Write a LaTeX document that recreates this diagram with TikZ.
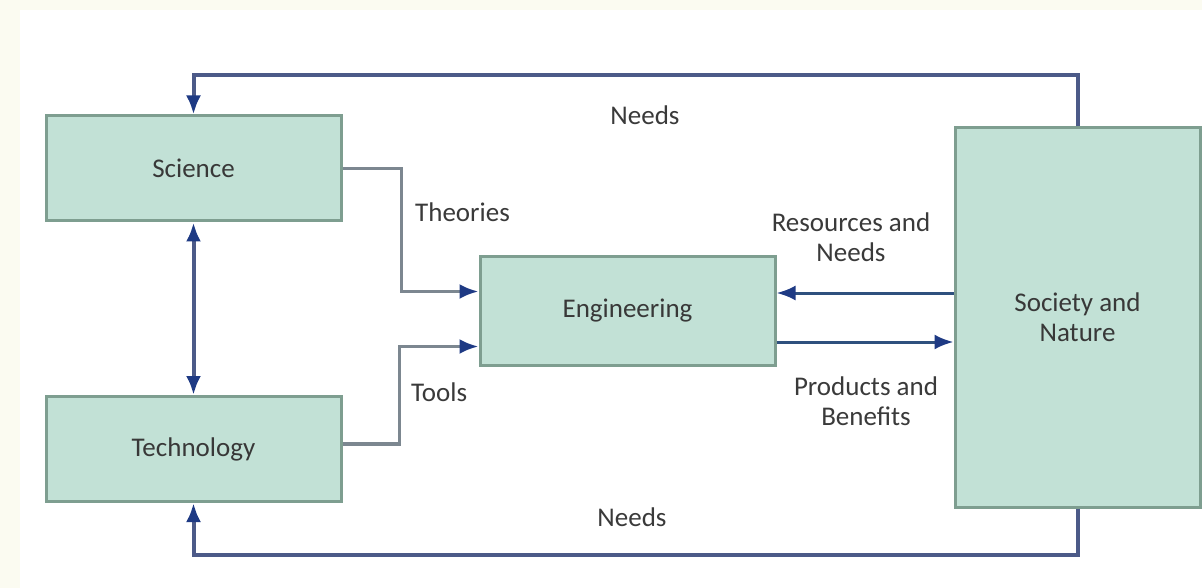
\documentclass[tikz,border=0pt]{standalone}
\usepackage{fontspec}
\setmainfont{Carlito}
\usetikzlibrary{arrows.meta}

\definecolor{boxfill}{HTML}{C2E1D6}
\definecolor{boxedge}{HTML}{7E9E90}
\definecolor{needblue}{HTML}{4C5A88}
\definecolor{feedgrey}{HTML}{7C8790}
\definecolor{flowblue}{HTML}{2F507E}
\definecolor{tipnavy}{HTML}{1E3A84}
\definecolor{labelgrey}{HTML}{3A3A3A}
\definecolor{cream}{HTML}{FBFBF1}

\tikzset{
    block/.style={draw=boxedge, fill=boxfill, line width=3pt, minimum width=295pt,
        minimum height=105pt, inner sep=0pt, align=center, text=black!78},
    lbl/.style={align=center, inner sep=0pt, text=labelgrey},
    navytip/.tip={Latex[length=19pt, width=15pt, color=tipnavy]},
    needarrow/.style={draw=needblue, line width=4pt, -navytip},
    feedarrow/.style={draw=feedgrey, line width=3.5pt, -navytip},
    flowarrow/.style={draw=flowblue, line width=3pt, -navytip}
}

\begin{document}
\begin{tikzpicture}[x=1pt, y=-1pt, font=\fontsize{27}{30}\selectfont]
        \fill[white] (0,0) rectangle (1202,588);
        \fill[cream] (0,0) rectangle (20,588);
        \fill[cream] (0,0) rectangle (1202,10);
        \useasboundingbox (0,0) rectangle (1202,588);

        \node[block] (sci) at (193.5,168.5) {Science};
        \node[block] (tech) at (193.5,449) {Technology};
        \node[block, minimum height=109pt] (eng) at (627.5,310.5) {Engineering};
        \node[block, minimum width=245pt, minimum height=379pt] (soc) at (1077.5,317.5) {Society and\\Nature};

        \coordinate (topway) at (0,75);
        \coordinate (botway) at (0,555);
        \coordinate (resway) at (0,293);
        \coordinate (prodway) at (0,342);

        \draw[needarrow] (soc.north) -- (soc.north |- topway) -| (sci.north);
        \draw[needarrow] (soc.south) -- (soc.south |- botway) -| (tech.south);
        \draw[needarrow, navytip-navytip] (sci.south) -- (tech.north);

        \draw[feedarrow] (sci.east) -- ++(59,0) |- ([yshift=19pt]eng.west);
        \draw[feedarrow] ([yshift=5pt]tech.east) -- ++(57,0) |- ([yshift=-36pt]eng.west);

        \draw[flowarrow] (soc.west |- resway) -- (eng.east |- resway);
        \draw[flowarrow] (eng.east |- prodway) -- (soc.west |- prodway);

        \node[lbl] (needstop) at (645,115) {Needs};
        \node[lbl] (needsbot) at (632,517) {Needs};
        \node[lbl, anchor=west] (theories) at (415,212) {Theories};
        \node[lbl, anchor=west] (tools) at (411,392) {Tools};
        \node[lbl] (resources) at (851,237) {Resources and\\Needs};
        \node[lbl] (products) at (866,401) {Products and\\Benefits};
\end{tikzpicture}
\end{document}
